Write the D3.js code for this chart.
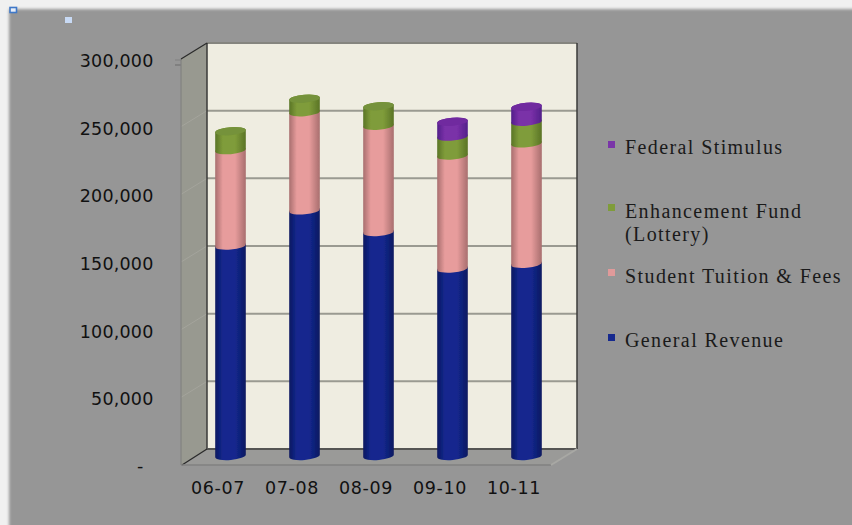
<!DOCTYPE html>
<html>
<head>
<meta charset="utf-8">
<script src="https://cdn.jsdelivr.net/npm/d3@7"></script>
<style>
html,body{margin:0;padding:0;background:#f0f0f0;overflow:hidden}
svg{display:block}
.ytick text{font-family:"DejaVu Sans",sans-serif;font-size:17.5px;letter-spacing:.2px;fill:#111}
.xtick text{font-family:"DejaVu Sans",sans-serif;font-size:17.5px;letter-spacing:.6px;fill:#111}
.legend text{font-family:"Liberation Serif",serif;font-size:20px;letter-spacing:1.4px;fill:#1a1a1a}
</style>
</head>
<body>
<svg id="chart" width="852" height="525"></svg>
<script>
// Funding by fiscal year, stacked, in thousands of dollars
const years = ["06-07","07-08","08-09","09-10","10-11"];
const generalRevenue = [155500,181500,165500,138500,142000];
const tuitionFees = [70500,72500,78500,83500,89000];
const enhancementFund = [14000,10000,14500,14000,16000];
const federalStimulus = [0,0,0,11000,11000];
const yTicks = [0,50000,100000,150000,200000,250000,300000];
const seriesNames = ["General Revenue","Student Tuition & Fees","Enhancement Fund","Federal Stimulus"];
const seriesBright = ["#14288e","#e79c9c","#7f9c3a","#7a30a8"];
const seriesDark = ["#0a1860","#a86e6e","#5a7426","#52208a"];
const seriesCap = ["#14288e","#e79c9c","#75923a","#70299f"];
const legendColors = ["#16298e","#e09a9a","#7f9c3a","#7a35a8"];
const legendOrder = [
  {idx:3, lines:["Federal Stimulus"], y:153.5, sq:141},
  {idx:2, lines:["Enhancement Fund","(Lottery)"], y:217.5, sq:204},
  {idx:1, lines:["Student Tuition & Fees"], y:282.5, sq:269},
  {idx:0, lines:["General Revenue"], y:346.5, sq:334}
];

const svg = d3.select("#chart");
const defs = svg.append("defs");

// Plot box in a simple oblique projection
const depthX = 26, depthY = -16;
const frontLeft = 181, frontRight = 551, frontBottom = 465, frontTop = 59;
const yFront = d3.scaleLinear().domain([0,300000]).range([frontBottom,frontTop]);
const yBack = d3.scaleLinear().domain([0,300000]).range([frontBottom+depthY,frontTop+depthY]);
const yBar = d3.scaleLinear().domain([0,300000]).range([460,54]);
const xFront = d3.scaleBand().domain(years).range([frontLeft,frontRight]);
const xBar = d3.scaleBand().domain(years).range([frontLeft+12.5,frontRight+12.5]).paddingInner(.585).paddingOuter(.2925);

// Soft panel edge
defs.append("filter").attr("id","soft").attr("x","-2%").attr("y","-2%").attr("width","104%").attr("height","104%")
  .append("feGaussianBlur").attr("stdDeviation",1.4);
defs.append("filter").attr("id","barSoft").attr("x","-10%").attr("y","-5%").attr("width","120%").attr("height","110%")
  .append("feGaussianBlur").attr("stdDeviation",.6);

svg.append("rect").attr("x",9).attr("y",9).attr("width",900).attr("height",600)
  .attr("fill","#969696").attr("filter","url(#soft)");

// Selection handles in the top-left corner
svg.append("rect").attr("x",10).attr("y",7.5).attr("width",6.5).attr("height",5)
  .attr("fill","#e8eef8").attr("stroke","#3f78c8").attr("stroke-width",1.6);
svg.append("rect").attr("x",65).attr("y",17).attr("width",7).attr("height",6).attr("fill","#c8daf5");

// Side wall, floor and back wall
const bl = yFront(0), tl = yFront(300000);
const backL = frontLeft+depthX, backR = frontRight+depthX;
svg.append("polygon").attr("fill","#989990")
  .attr("points",[[frontLeft,tl],[backL,tl+depthY],[backL,bl+depthY],[frontLeft,bl]].join(" "));
svg.append("polygon").attr("fill","#9a9a98")
  .attr("points",[[frontLeft,bl],[backL,bl+depthY],[backR,bl+depthY],[frontRight,bl]].join(" "));
svg.append("rect").attr("x",backL).attr("y",yBack(300000)).attr("width",backR-backL)
  .attr("height",yBack(0)-yBack(300000)).attr("fill","#efede1");

// Gridlines across the back wall and down the side wall
const grid = svg.append("g");
yTicks.filter(d=>d>0).forEach(d=>{
  grid.append("line").attr("x1",backL).attr("x2",backR).attr("y1",yBack(d)).attr("y2",yBack(d))
    .attr("stroke",d===300000?"#85857f":"#9a9a91").attr("stroke-width",2);
  if(d<300000) grid.append("line").attr("x1",frontLeft).attr("x2",backL).attr("y1",yFront(d)).attr("y2",yBack(d))
    .attr("stroke","#a4a49c").attr("stroke-width",1);
});

// Box outlines
const edge = (x1,y1,x2,y2,c,w)=>svg.append("line").attr("x1",x1).attr("y1",y1).attr("x2",x2).attr("y2",y2).attr("stroke",c).attr("stroke-width",w);
edge(backL,yBack(300000),backL,yBack(0),"#3a3a38",1.5);
edge(backR,yBack(300000),backR,yBack(0),"#3a3a38",1.5);
edge(backL,yBack(0),backR,yBack(0),"#555553",2);
edge(frontLeft,tl,frontLeft,bl,"#828280",1.2);
edge(frontLeft,tl,backL,tl+depthY,"#2a2a2a",1.3);
edge(frontLeft+1,bl,backL,bl+depthY,"#2a2a2a",1.3);
edge(frontLeft,bl,frontRight,bl,"#808080",1.5);
edge(frontRight,bl,backR,bl+depthY,"#a8a8a4",2);
edge(175,60,181,60,"#808080",1);
edge(175,65,181,65,"#808080",2);

// Cylinder shading
seriesNames.forEach((n,i)=>{
  const g = defs.append("linearGradient").attr("id","cyl"+i).attr("x1",0).attr("x2",1).attr("y1",0).attr("y2",0);
  g.append("stop").attr("offset",0).attr("stop-color",seriesDark[i]);
  g.append("stop").attr("offset",.25).attr("stop-color",seriesBright[i]);
  g.append("stop").attr("offset",.65).attr("stop-color",seriesBright[i]);
  g.append("stop").attr("offset",1).attr("stop-color",seriesDark[i]);
});

// Stack the series and draw each column from the floor upward
const rows = years.map((y,i)=>({year:y,s0:generalRevenue[i],s1:tuitionFees[i],s2:enhancementFund[i],s3:federalStimulus[i]}));
const stacked = d3.stack().keys(["s0","s1","s2","s3"])(rows);
const ry = 4, tilt = 5;
const rad = tilt*Math.PI/180;
const barsG = svg.append("g").attr("filter","url(#barSoft)");

stacked.forEach((layer,si)=>{
  layer.forEach((d,ci)=>{
    if(d[1]-d[0]<=0) return;
    const rx = xBar.bandwidth()/2;
    const cx = xBar(years[ci])+rx;
    // y scale reads the front edge of each ellipse, so lift the centre by ry
    const yb = yBar(d[0])-ry, yt = yBar(d[1])-ry;
    const dx = rx*Math.cos(rad), dy = rx*Math.sin(rad);
    const body = `M${cx-dx},${yb+dy} A${rx},${ry} ${-tilt} 0 0 ${cx+dx},${yb-dy} L${cx+dx},${yt-dy} A${rx},${ry} ${-tilt} 0 0 ${cx-dx},${yt+dy} Z`;
    barsG.append("path").attr("d",body).attr("fill",`url(#cyl${si})`);
    const isTop = si===stacked.length-1 || stacked.slice(si+1).every(l=>l[ci][1]-l[ci][0]<=0);
    if(isTop){
      barsG.append("ellipse").attr("cx",cx).attr("cy",yt).attr("rx",rx).attr("ry",ry)
        .attr("transform",`rotate(${-tilt} ${cx} ${yt})`).attr("fill",seriesCap[si]);
    }
  });
});

// Value axis labels, with a dash at zero
const yAxis = d3.axisLeft(yFront).tickValues(yTicks).tickSize(0).tickPadding(0)
  .tickFormat(d=>d===0?"-":d3.format(",")(d));
const yG = svg.append("g").attr("class","ytick").attr("transform","translate(153.5,0)").call(yAxis);
yG.select(".domain").remove();
yG.selectAll(".tick text").attr("dy","0.42em").filter(d=>d===0).attr("dx",-10).attr("dy","0.35em");

// Fiscal year labels
const xAxis = d3.axisBottom(xFront).tickSize(0).tickPadding(0);
const xG = svg.append("g").attr("class","xtick").attr("transform",`translate(0,${frontBottom+17})`).call(xAxis);
xG.select(".domain").remove();

// Legend
const leg = svg.append("g").attr("class","legend");
legendOrder.forEach(item=>{
  leg.append("rect").attr("x",608).attr("y",item.sq).attr("width",7).attr("height",7).attr("fill",legendColors[item.idx]);
  item.lines.forEach((t,k)=>{
    leg.append("text").attr("x",625).attr("y",item.y+k*23.5).text(t);
  });
});
</script>
</body>
</html>
